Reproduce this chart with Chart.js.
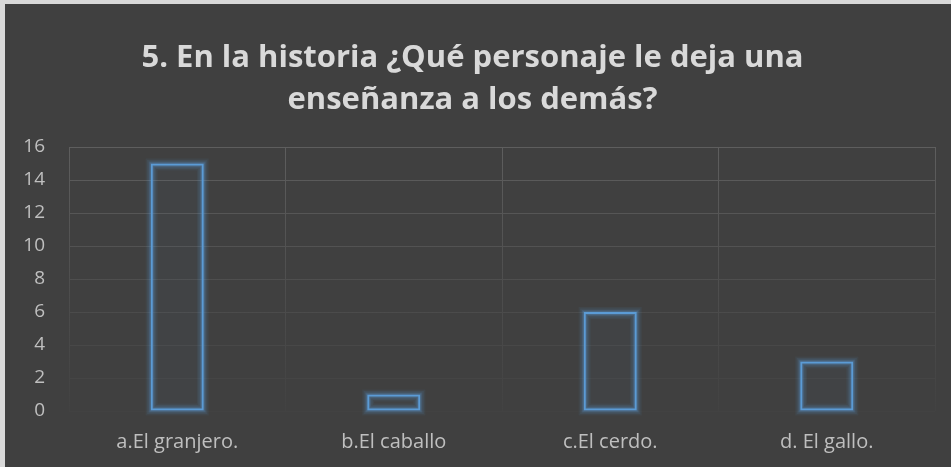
<!DOCTYPE html>
<html>
<head>
<meta charset="utf-8">
<script src="https://cdn.jsdelivr.net/npm/chart.js@4"></script>
<style>
  body { margin: 0; background: #404040; }
  #wrap {
    width: 946px; height: 463px;
    border-top: 4px solid #d9d9d9;
    border-left: 5px solid #d9d9d9;
    background: #404040;
  }
</style>
</head>
<body>
<div id="wrap"><canvas id="chart" width="946" height="463"></canvas></div>
<script>
const categories = ['a.El granjero.', 'b.El caballo', 'c.El cerdo.', 'd. El gallo.'];
const values = [15, 1, 6, 3];
const titleLines = ['5. En la historia ¿Qué personaje le deja una', 'enseñanza a los demás?'];
const yMax = 16;
const yStep = 2;

function gridGradient(context) {
    const chart = context.chart;
    const area = chart.chartArea;
    if (!area) return '#555555';
    const g = chart.ctx.createLinearGradient(0, area.top, 0, area.bottom);
    g.addColorStop(0, '#5e5e5e');
    g.addColorStop(0.55, '#4d4d4d');
    g.addColorStop(1, '#424242');
    return g;
}

// soft blue glow round the bar outlines, drawn under the bars
const glowPlugin = {
    id: 'glow',
    beforeDatasetsDraw(chart) {
        const ctx = chart.ctx;
        const meta = chart.getDatasetMeta(0);
        ctx.save();
        meta.data.forEach((bar) => {
            const p = bar.getProps(['x', 'y', 'base', 'width'], true);
            const left = p.x - p.width / 2;
            const top = Math.min(p.y, p.base);
            const h = Math.abs(p.base - p.y);
            [[12, 0.07], [9, 0.1], [6, 0.16], [4, 0.22]].forEach(([w, a]) => {
                ctx.strokeStyle = 'rgba(91,155,213,' + a + ')';
                ctx.lineWidth = w;
                ctx.strokeRect(left + 1, top + 1, p.width - 2, h - 2);
            });
        });
        ctx.restore();
    }
};

const ctx = document.getElementById('chart').getContext('2d');
const chart = new Chart(ctx, {
    type: 'bar',
    data: {
        labels: categories,
        datasets: [{
            data: values,
            backgroundColor: 'rgba(91,155,213,0.04)',
            borderColor: '#5b9bd5',
            borderWidth: 2,
            borderSkipped: false,
            categoryPercentage: 1,
            barPercentage: 0.245
        }]
    },
    options: {
        responsive: false,
        animation: false,
        layout: {
            padding: { left: 5, right: 16, top: 33, bottom: 0 }
        },
        plugins: {
            legend: { display: false },
            tooltip: { enabled: false },
            title: {
                display: true,
                text: titleLines,
                color: '#d9d9d9',
                font: { family: 'Open Sans', size: 31, weight: 'bold', lineHeight: 1.355 },
                padding: { top: 0, bottom: 26 }
            }
        },
        scales: {
            x: {
                grid: { color: gridGradient, lineWidth: 1, drawTicks: false },
                border: { display: false },
                afterFit(scale) { scale.height = 56; },
                ticks: {
                    color: '#bfbfbf',
                    font: { family: 'Open Sans', size: 20 },
                    padding: 19,
                    maxRotation: 0
                }
            },
            y: {
                min: 0,
                max: yMax,
                grid: { color: gridGradient, lineWidth: 1, drawTicks: false },
                border: { display: false },
                afterFit(scale) { scale.width = 59; },
                ticks: {
                    stepSize: yStep,
                    color: '#bfbfbf',
                    font: { family: 'Open Sans', size: 19 },
                    padding: 24
                }
            }
        }
    },
    plugins: [glowPlugin]
});
</script>
</body>
</html>
